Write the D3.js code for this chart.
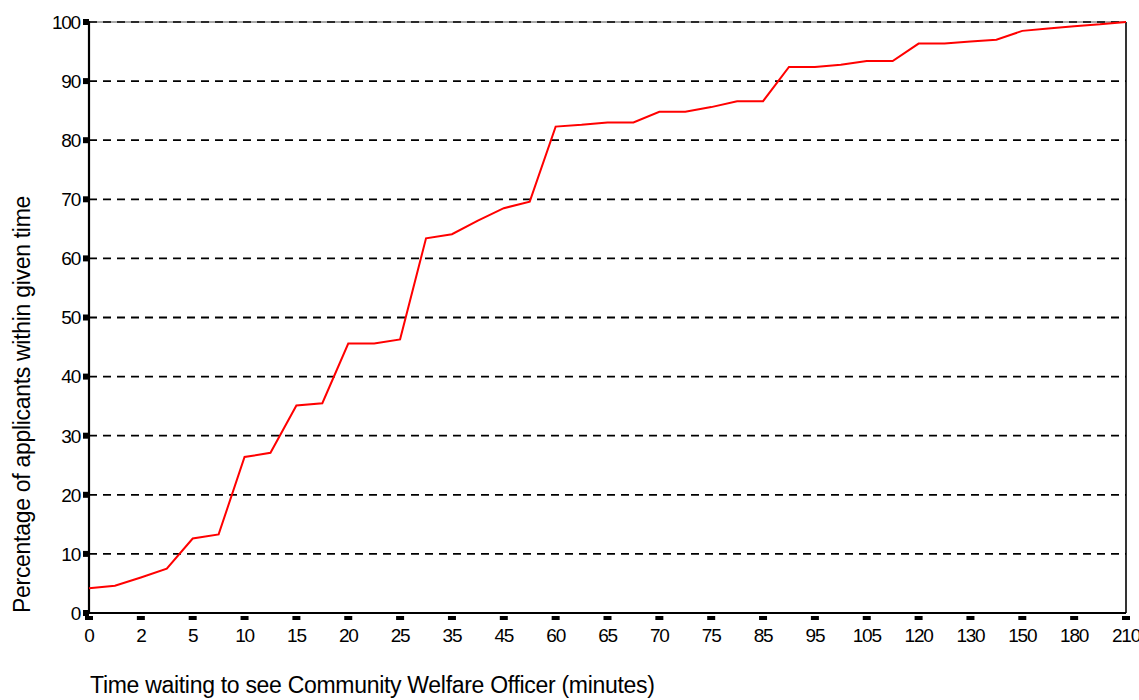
<!DOCTYPE html>
<html>
<head>
<meta charset="utf-8">
<script src="https://cdn.jsdelivr.net/npm/d3@7"></script>
<style>
  body { margin: 0; background: #fff; }
  svg text { font-family: "Liberation Sans", Arial, sans-serif; fill: #000; }
</style>
</head>
<body>
<script>
// tick labels on the time axis (one for every second point)
var timeLabels = ["0","2","5","10","15","20","25","35","45","60","65","70","75","85","95","105","120","130","150","180","210"];
// cumulative percentage of applicants, one value per point (41 points)
var pctSeen = [4.2, 4.6, 6.0, 7.5, 12.6, 13.3, 26.4, 27.1, 35.1, 35.5,
               45.6, 45.6, 46.3, 63.4, 64.1, 66.4, 68.5, 69.6, 82.3, 82.6,
               83.0, 83.0, 84.8, 84.8, 85.6, 86.6, 86.6, 92.4, 92.4, 92.75,
               93.4, 93.4, 96.35, 96.35, 96.7, 97.0, 98.5, 98.9, 99.3, 99.6, 100];
var yTicks = [0,10,20,30,40,50,60,70,80,90,100];

(function(){
    var width = 1139, height = 700;
    var left = 89, right = 1126, top = 22, bottom = 613;

    var svg = d3.select("body").append("svg")
        .attr("width", width)
        .attr("height", height);

    var x = d3.scaleLinear().domain([0, pctSeen.length - 1]).range([left, right]);
    var y = d3.scaleLinear().domain([0, 100]).range([bottom, top]);

    //dashed gridlines
    svg.selectAll(".grid")
        .data(yTicks.filter(function(d){ return d > 0; }))
        .enter().append("line")
        .attr("x1", left).attr("x2", right)
        .attr("y1", function(d){ return y(d); })
        .attr("y2", function(d){ return y(d); })
        .attr("stroke", "#000")
        .attr("stroke-width", 1.8)
        .attr("stroke-dasharray", "8,6");

    //frame: top and right thin, left and bottom heavier
    svg.append("line").attr("x1", left).attr("x2", right).attr("y1", top).attr("y2", top)
        .attr("stroke", "#555").attr("stroke-width", 1);
    svg.append("line").attr("x1", right).attr("x2", right).attr("y1", top).attr("y2", bottom)
        .attr("stroke", "#000").attr("stroke-width", 1.6);
    svg.append("line").attr("x1", left).attr("x2", left).attr("y1", top - 1).attr("y2", bottom + 1)
        .attr("stroke", "#000").attr("stroke-width", 2.2);
    svg.append("line").attr("x1", left - 1).attr("x2", right).attr("y1", bottom).attr("y2", bottom)
        .attr("stroke", "#000").attr("stroke-width", 2.2);

    //y ticks and labels
    var yAxis = svg.append("g");
    yAxis.selectAll("rect")
        .data(yTicks).enter().append("rect")
        .attr("x", left - 6).attr("width", 6)
        .attr("y", function(d){ return y(d) - 3; })
        .attr("height", 6)
        .attr("fill", "#000");
    yAxis.selectAll("text")
        .data(yTicks).enter().append("text")
        .attr("x", left - 9)
        .attr("y", function(d){ return y(d); })
        .attr("dy", "0.36em")
        .attr("text-anchor", "end")
        .attr("font-size", 19)
        .attr("letter-spacing", -1.2)
        .text(function(d){ return d; });

    //x ticks and labels
    var xIdx = d3.range(0, pctSeen.length, 2);
    var xAxis = svg.append("g");
    xAxis.selectAll("rect")
        .data(xIdx).enter().append("rect")
        .attr("x", function(d){ return x(d) - 4; })
        .attr("width", 8)
        .attr("y", bottom + 3).attr("height", 4)
        .attr("fill", "#000");
    xAxis.selectAll("text")
        .data(xIdx).enter().append("text")
        .attr("x", function(d){ return x(d); })
        .attr("y", bottom + 29)
        .attr("text-anchor", "middle")
        .attr("font-size", 19)
        .attr("letter-spacing", -1.2)
        .text(function(d, i){ return timeLabels[i]; });

    //the line
    var line = d3.line()
        .x(function(d, i){ return x(i); })
        .y(function(d){ return y(d); });
    svg.append("path")
        .datum(pctSeen)
        .attr("d", line)
        .attr("fill", "none")
        .attr("stroke", "#ff0000")
        .attr("stroke-width", 2);

    //axis titles
    svg.append("text")
        .attr("x", 90).attr("y", 693)
        .attr("font-size", 23)
        .attr("letter-spacing", -0.3)
        .text("Time waiting to see Community Welfare Officer (minutes)");
    svg.append("text")
        .attr("transform", "translate(30,613) rotate(-90)")
        .attr("font-size", 23)
        .attr("letter-spacing", -0.3)
        .text("Percentage of applicants within given time");
})();
</script>
</body>
</html>
